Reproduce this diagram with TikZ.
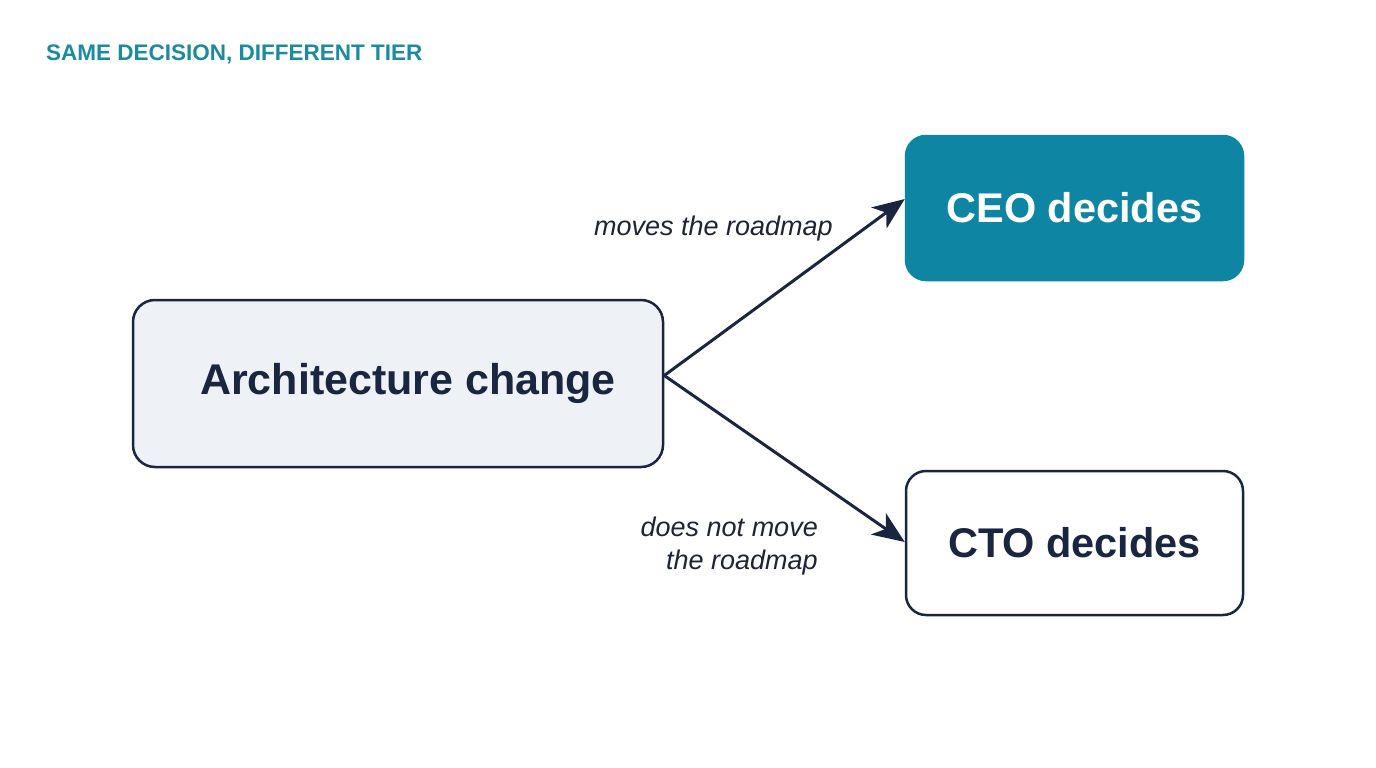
\documentclass[tikz,border=0pt]{standalone}
\usepackage{fontspec}
\setmainfont{Liberation Sans}
\usetikzlibrary{arrows.meta}
\definecolor{navy}{HTML}{1A2540}
\definecolor{teal1}{HTML}{0E86A3}
\definecolor{titleteal}{HTML}{1C8A9F}
\definecolor{paleblue}{HTML}{EEF2F7}
\definecolor{labelink}{HTML}{1E2433}
\tikzset{
  box/.style={draw=navy, line width=2.5pt, rounded corners=22pt, inner sep=0pt},
  boxtext/.style={font=\fontsize{43}{50}\selectfont\bfseries, text=navy},
  arr/.style={draw=navy, line width=3pt, -{Stealth[length=32pt, width=26pt, inset=9pt]}},
  lbl/.style={font=\fontsize{27}{33}\selectfont\itshape, text=labelink, inner sep=0pt},
}
\begin{document}
\begin{tikzpicture}[x=1pt, y=-1pt]
  \useasboundingbox[fill=white] (0,0) rectangle (1376,768);
  \node[anchor=base west, inner sep=0pt, font=\fontsize{22.5}{27}\selectfont\bfseries, text=titleteal] (title) at (46,60) {SAME DECISION, DIFFERENT TIER};

  \node[box, fill=paleblue, minimum width=530pt, minimum height=167pt, boxtext] (arch) at (398,383.5) {\hspace*{20pt}Architecture change};
  \node[box, fill=teal1, draw=teal1, minimum width=337pt, minimum height=144pt, rounded corners=20pt, font=\fontsize{41.5}{48}\selectfont\bfseries, text=white] (ceo) at (1074.5,208) {CEO decides};
  \node[box, fill=white, minimum width=337pt, minimum height=144pt, rounded corners=20pt, font=\fontsize{41.5}{48}\selectfont\bfseries, text=navy] (cto) at (1074.5,543) {CTO decides};

  \coordinate (split) at ([yshift=8pt]arch.east);
  \draw[arr] (split) -- ([yshift=9pt]ceo.west);
  \draw[arr] (split) -- ([yshift=1pt]cto.west);

  \node[lbl, anchor=base east] (l1) at (833,235) {moves the roadmap};
  \node[lbl, anchor=base east] (l2a) at (818,536) {does not move};
  \node[lbl, anchor=base east] (l2b) at (818,569) {the roadmap};
\end{tikzpicture}
\end{document}
